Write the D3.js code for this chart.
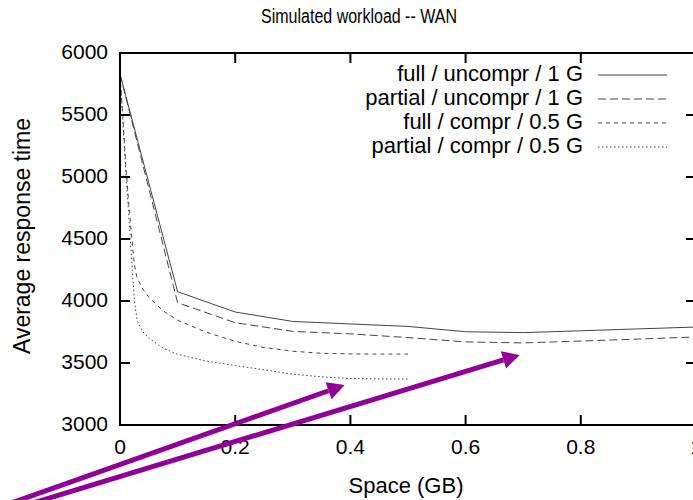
<!DOCTYPE html>
<html>
<head>
<meta charset="utf-8">
<script src="https://cdn.jsdelivr.net/npm/d3@7"></script>
<style>
  body { margin: 0; background: #fff; }
  svg { display: block; font-family: "Liberation Sans", Arial, sans-serif; }
</style>
</head>
<body>
<div id="chart"></div>
<script>
// x values for the uncompressed runs (GB)
const uncomprX = [0, 0.1, 0.2, 0.3, 0.4, 0.5, 0.6, 0.7, 0.8, 0.9, 1.0];
const fullUncompr = [5830, 4075, 3911, 3835, 3815, 3795, 3752, 3745, 3760, 3775, 3790];
const partialUncompr = [5830, 3986, 3825, 3755, 3735, 3705, 3670, 3662, 3677, 3693, 3710];

// x values for the compressed runs (GB)
const comprX = [0, 0.005, 0.01, 0.015, 0.02, 0.025, 0.03, 0.04, 0.05, 0.075, 0.1, 0.15, 0.2, 0.25, 0.3, 0.35, 0.4, 0.45, 0.5];
const fullCompr = [5830, 5480, 5100, 4800, 4530, 4290, 4180, 4095, 4030, 3920, 3845, 3748, 3675, 3625, 3595, 3578, 3573, 3572, 3572];
const partialCompr = [5830, 5450, 5050, 4700, 4350, 4000, 3840, 3750, 3700, 3620, 3570, 3515, 3480, 3445, 3410, 3388, 3375, 3372, 3370];

const seriesNames = ["full / uncompr / 1 G", "partial / uncompr / 1 G", "full / compr / 0.5 G", "partial / compr / 0.5 G"];
const xTicks = [0, 0.2, 0.4, 0.6, 0.8, 1];
const yTicks = [3000, 3500, 4000, 4500, 5000, 5500, 6000];

// purple annotation arrows, in data units: [start, tip]
const arrows = [
  [[-0.272, 2234], [0.39, 3322]],
  [[-0.248, 2234], [0.694, 3565]]
];

const width = 693, height = 500;
const margin = {left: 120, top: 53, right: -3, bottom: 75};

const svg = d3.select("#chart").append("svg")
  .attr("width", width)
  .attr("height", height);

const x = d3.scaleLinear().domain([0, 1]).range([margin.left, width - margin.right]);
const y = d3.scaleLinear().domain([3000, 6000]).range([height - margin.bottom, margin.top]);

const series = [
  {name: seriesNames[0], xs: uncomprX, ys: fullUncompr, dash: null},
  {name: seriesNames[1], xs: uncomprX, ys: partialUncompr, dash: "8,4"},
  {name: seriesNames[2], xs: comprX, ys: fullCompr, dash: "4,4"},
  {name: seriesNames[3], xs: comprX, ys: partialCompr, dash: "1.5,2.5"}
];

const line = d3.line().x(d => x(d[0])).y(d => y(d[1]));

// data lines
series.forEach(s => {
  svg.append("path")
    .datum(s.xs.map((v, i) => [v, s.ys[i]]))
    .attr("d", line)
    .attr("fill", "none")
    .attr("stroke", "#444")
    .attr("stroke-width", 1)
    .attr("stroke-dasharray", s.dash);
});

// frame
const x0 = x.range()[0], x1 = x.range()[1];
const y0 = y.range()[0], y1 = y.range()[1];
svg.append("rect")
  .attr("x", x0).attr("y", y1)
  .attr("width", x1 - x0).attr("height", y0 - y1)
  .attr("fill", "none")
  .attr("stroke", "#000")
  .attr("stroke-width", 2);

// ticks, mirrored on all four sides
const tl = 10;
xTicks.forEach(t => {
  svg.append("line").attr("x1", x(t)).attr("x2", x(t)).attr("y1", y0).attr("y2", y0 - tl)
    .attr("stroke", "#000").attr("stroke-width", 2);
  svg.append("line").attr("x1", x(t)).attr("x2", x(t)).attr("y1", y1).attr("y2", y1 + tl)
    .attr("stroke", "#000").attr("stroke-width", 2);
  svg.append("text")
    .attr("x", x(t)).attr("y", y0 + 23)
    .attr("text-anchor", "middle")
    .attr("dominant-baseline", "middle")
    .attr("font-size", 21)
    .text(d3.format("~g")(t));
});
yTicks.forEach(t => {
  svg.append("line").attr("x1", x0).attr("x2", x0 + tl).attr("y1", y(t)).attr("y2", y(t))
    .attr("stroke", "#000").attr("stroke-width", 2);
  svg.append("line").attr("x1", x1).attr("x2", x1 - tl).attr("y1", y(t)).attr("y2", y(t))
    .attr("stroke", "#000").attr("stroke-width", 2);
  svg.append("text")
    .attr("x", x0 - 12).attr("y", y(t))
    .attr("text-anchor", "end")
    .attr("dominant-baseline", "middle")
    .attr("font-size", 21)
    .text(t);
});

// titles (the original title font is a bit condensed)
svg.append("text")
  .attr("transform", "translate(359,18) scale(0.8,1)")
  .attr("text-anchor", "middle")
  .attr("dominant-baseline", "middle")
  .attr("font-size", 20)
  .text("Simulated workload -- WAN");

svg.append("text")
  .attr("x", 406).attr("y", 487)
  .attr("text-anchor", "middle")
  .attr("dominant-baseline", "middle")
  .attr("font-size", 22)
  .text("Space (GB)");

svg.append("text")
  .attr("transform", "translate(24,236) rotate(-90)")
  .attr("text-anchor", "middle")
  .attr("dominant-baseline", "middle")
  .attr("font-size", 23)
  .text("Average response time");

// legend
const legend = svg.append("g");
series.forEach((s, i) => {
  const ly = 75 + i * 24;
  legend.append("text")
    .attr("x", 583).attr("y", ly)
    .attr("text-anchor", "end")
    .attr("dominant-baseline", "middle")
    .attr("font-size", 22)
    .text(s.name);
  legend.append("line")
    .attr("x1", 598).attr("x2", 667).attr("y1", ly).attr("y2", ly)
    .attr("stroke", "#444").attr("stroke-width", 1)
    .attr("stroke-dasharray", s.dash);
});

// arrows
const purple = "#900098";
arrows.forEach(a => {
  const sx = x(a[0][0]), sy = y(a[0][1]);
  const ex = x(a[1][0]), ey = y(a[1][1]);
  const ang = Math.atan2(ey - sy, ex - sx);
  const hl = 17, hw = 9;
  const bx = ex - hl * Math.cos(ang), by = ey - hl * Math.sin(ang);
  svg.append("line")
    .attr("x1", sx).attr("y1", sy).attr("x2", bx).attr("y2", by)
    .attr("stroke", purple).attr("stroke-width", 5);
  const px = -Math.sin(ang), py = Math.cos(ang);
  svg.append("path")
    .attr("d", `M${ex},${ey}L${bx + px * hw},${by + py * hw}L${bx - px * hw},${by - py * hw}Z`)
    .attr("fill", purple);
});
</script>
</body>
</html>
